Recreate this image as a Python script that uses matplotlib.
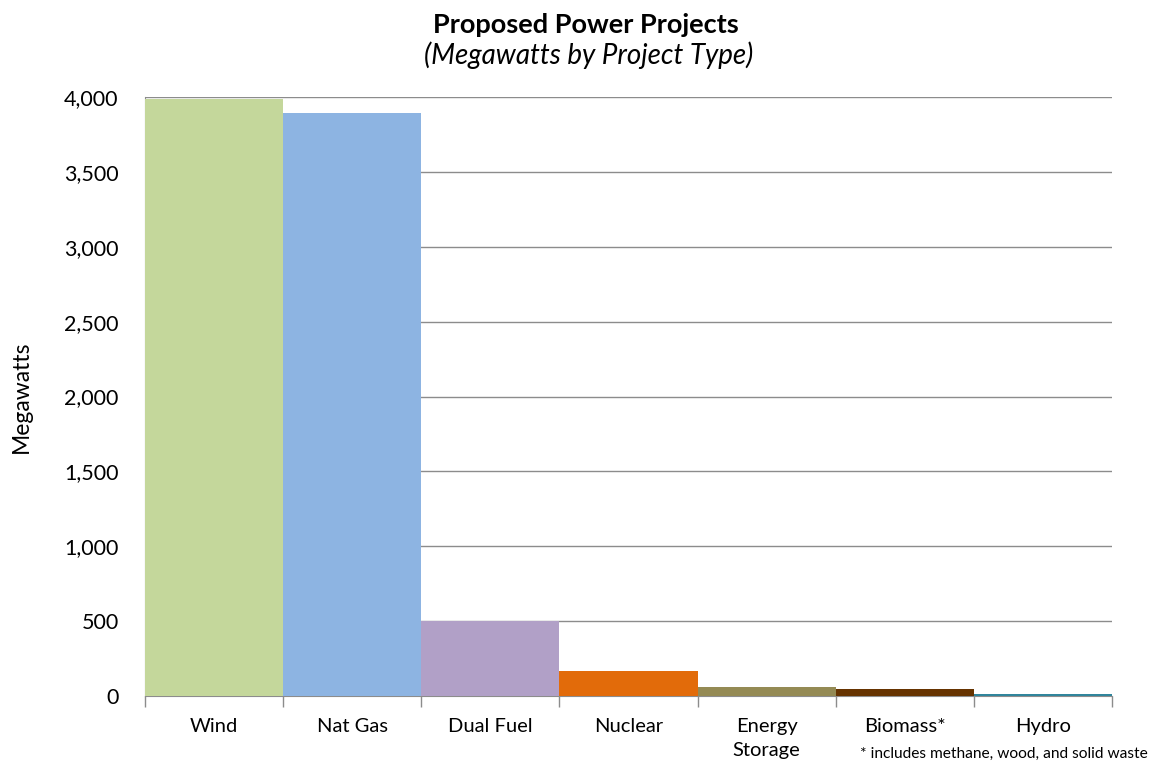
import matplotlib
matplotlib.use("Agg")
import matplotlib.pyplot as plt
import numpy as np

categories = ["Wind", "Nat Gas", "Dual Fuel", "Nuclear", "Energy\nStorage", "Biomass*", "Hydro"]
megawatts = [3985, 3890, 500, 167, 60, 47, 15]
colors = ["#C4D79B", "#8DB4E2", "#B1A0C7", "#E26B0A", "#948A54", "#663300", "#31859C"]
yticks = [0, 500, 1000, 1500, 2000, 2500, 3000, 3500, 4000]

plt.rcParams['font.family'] = ['Lato', 'DejaVu Sans']

fig = plt.figure(figsize=(11.52, 7.65), dpi=100)
ax = fig.add_axes([145/1152, 1-696/765, (1112-145)/1152, (696-97)/765])

x = np.arange(len(categories))
ax.bar(x, megawatts, width=1.0, color=colors, edgecolor='none', zorder=3)

ax.set_xlim(-0.5, len(categories) - 0.5)
ax.set_ylim(0, 4000)
ax.set_yticks(yticks)
ax.set_yticklabels([f"{v:,}" for v in yticks], fontsize=15.5)
ax.yaxis.grid(True, color="#8c8c8c", linewidth=1, zorder=0)
ax.tick_params(axis='y', length=0, pad=19)

ax.set_xticks(x)
ax.set_xticklabels(categories, fontsize=14.5, linespacing=1.5)
ax.set_xticks(np.arange(-0.5, len(categories), 1.0), minor=True)
ax.tick_params(axis='x', which='major', length=0, pad=16)
ax.tick_params(axis='x', which='minor', length=8, color="#8c8c8c", width=1)

for s in ['top', 'right']:
    ax.spines[s].set_visible(False)
ax.spines['left'].set_color("#8c8c8c")
ax.spines['bottom'].set_color("#8c8c8c")

ax.set_ylabel("Megawatts", fontsize=16.5)
ax.yaxis.set_label_coords(-0.117, 0.5)

fig.text(586/1152, 1-25/765, "Proposed Power Projects", ha='center', va='center',
         fontsize=19.5, fontweight='bold')
fig.text(589/1152, 1-55/765, "(Megawatts by Project Type)", ha='center', va='center',
         fontsize=20, fontstyle='italic')
fig.text(1148/1152, 1-754/765, "* includes methane, wood, and solid waste",
         ha='right', va='center', fontsize=11.2)

fig.savefig("out.png", dpi=100)
